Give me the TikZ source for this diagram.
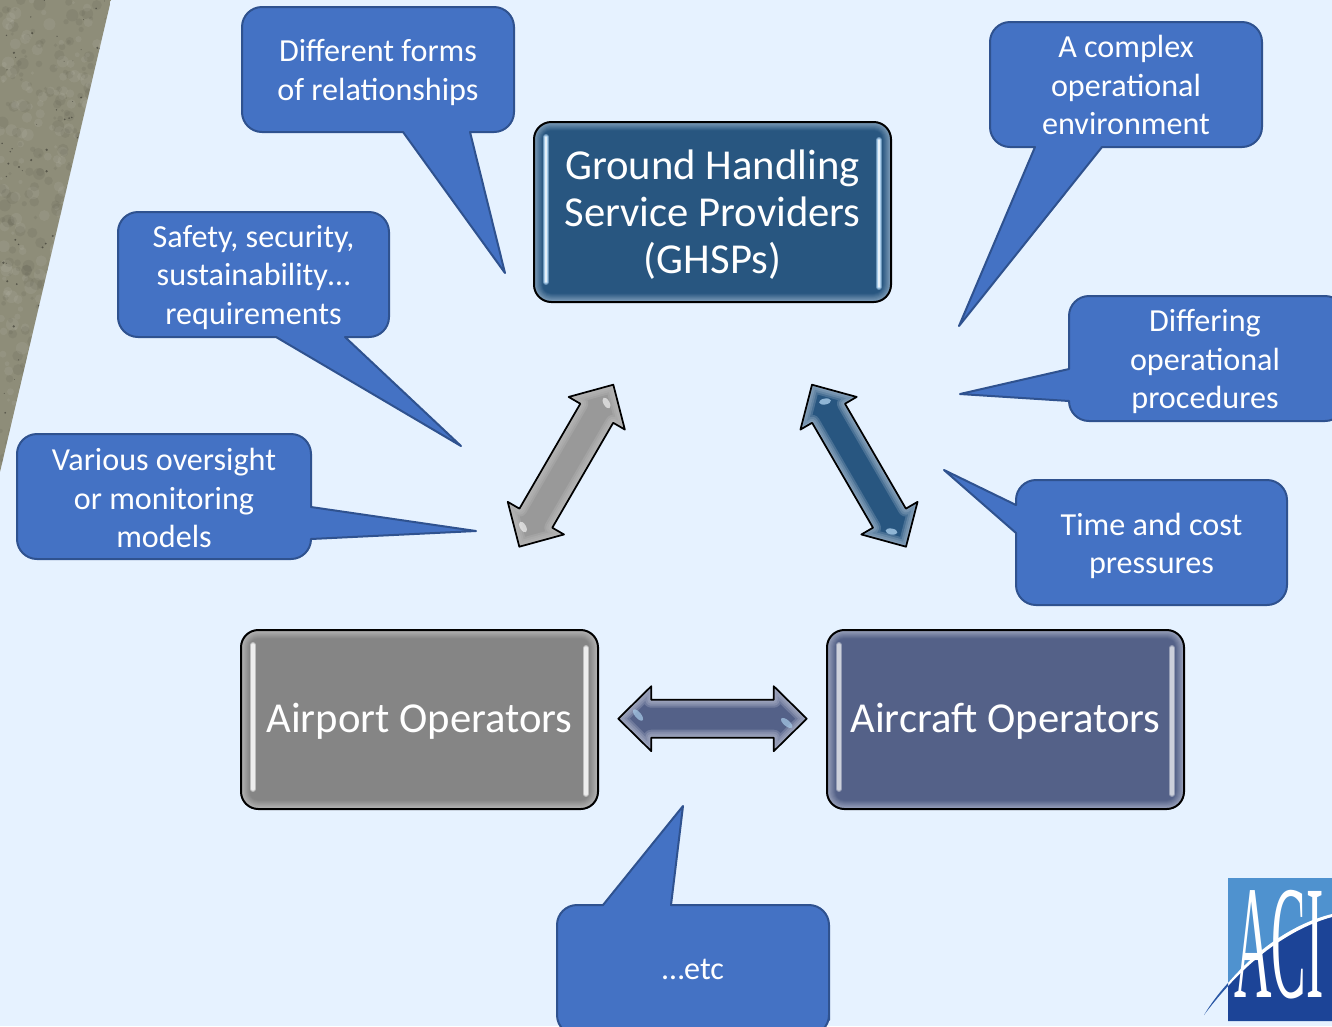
\documentclass[tikz,border=0pt]{standalone}
\usepackage{fontspec}
\setmainfont{Carlito}
\newfontfamily\logofont{Liberation Serif}
\usetikzlibrary{calc}
\definecolor{bgblue}{HTML}{E6F2FF}
\definecolor{stone}{HTML}{8E8D79}
\definecolor{callfill}{HTML}{4472C4}
\definecolor{callline}{HTML}{2F528F}
\definecolor{ghspblue}{HTML}{285680}
\definecolor{ghspedge}{HTML}{7E9DB8}
\definecolor{airgray}{HTML}{858585}
\definecolor{airgrayedge}{HTML}{B4B4B4}
\definecolor{craftblue}{HTML}{546188}
\definecolor{craftedge}{HTML}{9AA3BC}
\definecolor{stripeblue}{HTML}{A9CDEB}
\definecolor{logolight}{HTML}{4F92CF}
\definecolor{logodark}{HTML}{1C4497}
\tikzset{
  callbox/.style={fill=callfill,draw=callline,line width=1.5pt,line join=round},
  calltext/.style={text=white,align=center,font=\fontsize{24.1}{29}\selectfont,inner sep=0pt},
  mainbox/.style={text=white,align=center,font=\fontsize{32}{35.2}\selectfont,inner sep=0pt},
  blockline/.style={draw=black,line width=1.3pt,line join=round}
}
% glossy main box: nested fills from edge colour to body colour, stripes, black outline
\newcommand{\glossrect}[7]{%
  \foreach \i in {0,...,9}{
    \pgfmathsetmacro\mixv{min(100,\i*12)}
    \fill[#5!\mixv!#6,rounded corners={max(13-\i*0.75,3)*1pt}]
      (#1+\i,#2+\i) rectangle (#3-\i,#4-\i);
  }
  \foreach \xa/\ya/\yb in {#1+12/#2+15/#4-20,#3-12/#2+18/#4-15}{
    \draw[#7,opacity=0.55,line width=4.4pt,line cap=round] (\xa,\ya) -- (\xa,\yb);
    \draw[#7,line width=2.6pt,line cap=round] (\xa,\ya) -- (\xa,\yb);
    \draw[white!70!#7,line width=1.1pt,line cap=round] (\xa,\ya) -- (\xa,\yb);
  }
  \draw[black,line width=1.5pt,rounded corners=13pt] (#1,#2) rectangle (#3,#4);
}
% point at distance #3 px along a->b, offset #4 px sideways
\newcommand{\onarrow}[4]{($(#1)!#3*0.75pt!(#2)!#4*0.75pt!90:(#2)$)}
% block arrow from named coordinate to named coordinate
\newcommand{\blockarrow}[4]{%
  \path let \p1=($(#1)-(#2)$), \n1={veclen(\x1,\y1)/0.75pt} in
    \pgfextra{\xdef\arrlen{\n1}};
  \pgfmathsetmacro\arrb{\arrlen-33}
  \def\arrowshape{\onarrow{#1}{#2}{0}{0} -- \onarrow{#1}{#2}{33}{32.5} -- \onarrow{#1}{#2}{33}{19}
    -- \onarrow{#1}{#2}{\arrb}{19} -- \onarrow{#1}{#2}{\arrb}{32.5} -- \onarrow{#1}{#2}{\arrlen}{0}
    -- \onarrow{#1}{#2}{\arrb}{-32.5} -- \onarrow{#1}{#2}{\arrb}{-19} -- \onarrow{#1}{#2}{33}{-19}
    -- \onarrow{#1}{#2}{33}{-32.5} -- cycle}
  \fill[#3] \arrowshape;
  \begin{scope}
    \clip \arrowshape;
    \foreach \w in {16,12,8,4}{
      \draw[#4,opacity=0.28,line width=\w*0.75pt,line join=round] \arrowshape;
    }
  \end{scope}
  \draw[blockline] \arrowshape;
}
\begin{document}
\begin{tikzpicture}[x=0.75pt,y=-0.75pt]
\useasboundingbox (0,0) rectangle (1332,1026);
\clip (0,0) rectangle (1332,1026);
\fill[bgblue] (0,0) rectangle (1332,1026);
% stone corner
\begin{scope}
  \clip (0,0) -- (111,0) -- (0,472) -- cycle;
  \fill[stone] (0,0) rectangle (111,472);
  \pgfmathsetseed{4217}
  \foreach \k in {1,...,260}{
    \fill[white!60!stone,opacity=0.10] (rnd*111,rnd*472) circle ({1.5+rnd*5});
    \fill[black!50!stone,opacity=0.10] (rnd*111,rnd*472) circle ({1.5+rnd*5});
  }
  \foreach \k in {1,...,90}{
    \fill[black!70!stone,opacity=0.55] (rnd*111,rnd*472) circle ({0.4+rnd*0.9});
  }
\end{scope}
% callouts
\draw[callbox] [rounded corners=15pt] (242,70) -- (242,7) -- (514,7) -- (514,132) [sharp corners] -- (470,132) -- (505,273) -- (403,132) [rounded corners=15pt] -- (242,132) -- cycle;
\node[calltext] (forms) at (378,72.5) {Different forms\\of relationships};
\draw[callbox] [rounded corners=15pt] (118,275) -- (118,212) -- (389,212) -- (389,337) [sharp corners] -- (345,337) -- (461,446) -- (276,337) [rounded corners=15pt] -- (118,337) -- cycle;
\node[calltext] (safety) at (253.5,277.5) {Safety, security,\\sustainability…\\requirements};
\draw[callbox] [rounded corners=15pt] (17,497) -- (17,434) -- (311,434) [sharp corners] -- (311,507) -- (476,531) -- (311,539) [rounded corners=15pt] -- (311,559) -- (17,559) -- cycle;
\node[calltext] (oversight) at (164,498) {Various oversight\\or monitoring\\models};
\draw[callbox] [rounded corners=15pt] (1262,85) -- (1262,147) [sharp corners] -- (1102,147) -- (959,326) -- (1035,147) [rounded corners=15pt] -- (990,147) -- (990,22) -- (1262,22) -- cycle;
\node[calltext] (complex) at (1126,85) {A complex\\operational\\environment};
\draw[callbox] [rounded corners=15pt] (1200,296) -- (1345,296) -- (1345,421) -- (1069,421) [sharp corners] -- (1069,401) -- (960,394) -- (1069,369) [rounded corners=15pt] -- (1069,296) -- cycle;
\node[calltext] (procedures) at (1205,361.5) {Differing\\operational\\procedures};
\draw[callbox] [rounded corners=15pt] (1150,480) -- (1287,480) -- (1287,605) -- (1016,605) [sharp corners] -- (1016,533) -- (944,470) -- (1016,505) [rounded corners=15pt] -- (1016,480) -- cycle;
\node[calltext] (pressures) at (1151.5,546) {Time and cost\\pressures};
\draw[callbox] [rounded corners=15pt] (829,1000) -- (829,1035) -- (557,1035) -- (557,905) [sharp corners] -- (603,905) -- (683,806) -- (671,905) [rounded corners=15pt] -- (829,905) -- cycle;
\node[calltext] (etc) at (693,969) {…etc};
% main boxes
\glossrect{534}{122}{891}{302}{ghspblue}{ghspedge}{stripeblue}
\node[mainbox] (ghsp) at (712.5,214.5) {Ground Handling\\Service Providers\\(GHSPs)};
\glossrect{241}{630}{598}{809}{airgray}{airgrayedge}{white!85!airgray}
\node[mainbox] (airport) at (419.5,721.5) {Airport Operators};
\glossrect{827}{630}{1184}{809}{craftblue}{craftedge}{white!70!craftblue}
\node[mainbox] (aircraft) at (1005.5,721.5) {Aircraft Operators};
% block arrows
\coordinate (grayA) at (613.3,384.7);
\coordinate (grayB) at (519.3,546.7);
\coordinate (blueA) at (812,384.7);
\coordinate (blueB) at (906,546.7);
\coordinate (horA) at (618.3,718.7);
\coordinate (horB) at (806.7,718.7);
\blockarrow{grayA}{grayB}{black!40!white}{white!75!black}
\blockarrow{blueA}{blueB}{ghspblue}{ghspedge!70!white}
\blockarrow{horA}{horB}{craftblue}{craftedge!70!white}
\fill[white,opacity=0.6,rotate around={-60:(606.5,403)}] (606.5,403) ellipse (6 and 3);
\fill[white,opacity=0.6,rotate around={-60:(523,527)}] (523,527) ellipse (6 and 3);
\fill[stripeblue,opacity=0.8,rotate around={10:(825,401.5)}] (825,401.5) ellipse (6 and 3);
\fill[stripeblue,opacity=0.8,rotate around={-10:(891.5,531.5)}] (891.5,531.5) ellipse (6 and 3);
\fill[stripeblue,opacity=0.7,rotate around={-50:(638,715)}] (638,715) ellipse (7 and 3);
\fill[stripeblue,opacity=0.7,rotate around={-40:(786.7,723)}] (786.7,723) ellipse (7 and 3);
% ACI logo
\fill[logolight] (1228,878) rectangle (1332,1021);
\fill[logodark] (1228,983) .. controls (1258,950) and (1295,925) .. (1332,917) -- (1332,1021) -- (1228,1021) -- cycle;
\node[text=white,font=\logofont\fontsize{121.5}{121.5}\selectfont,xscale=0.32,inner sep=0pt,anchor=base] (aci) at (1279,997) {ACI};
\fill[white] (1228,983) .. controls (1258,948) and (1295,923) .. (1332,914) -- (1332,917) .. controls (1295,927) and (1258,953) .. (1228,986) -- cycle;
\fill[logodark!75!logolight] (1204,1015) .. controls (1210,1005) and (1218,994) .. (1228,983) -- (1228,986) .. controls (1218,997) and (1210,1007) .. (1204,1015) -- cycle;
\end{tikzpicture}
\end{document}
